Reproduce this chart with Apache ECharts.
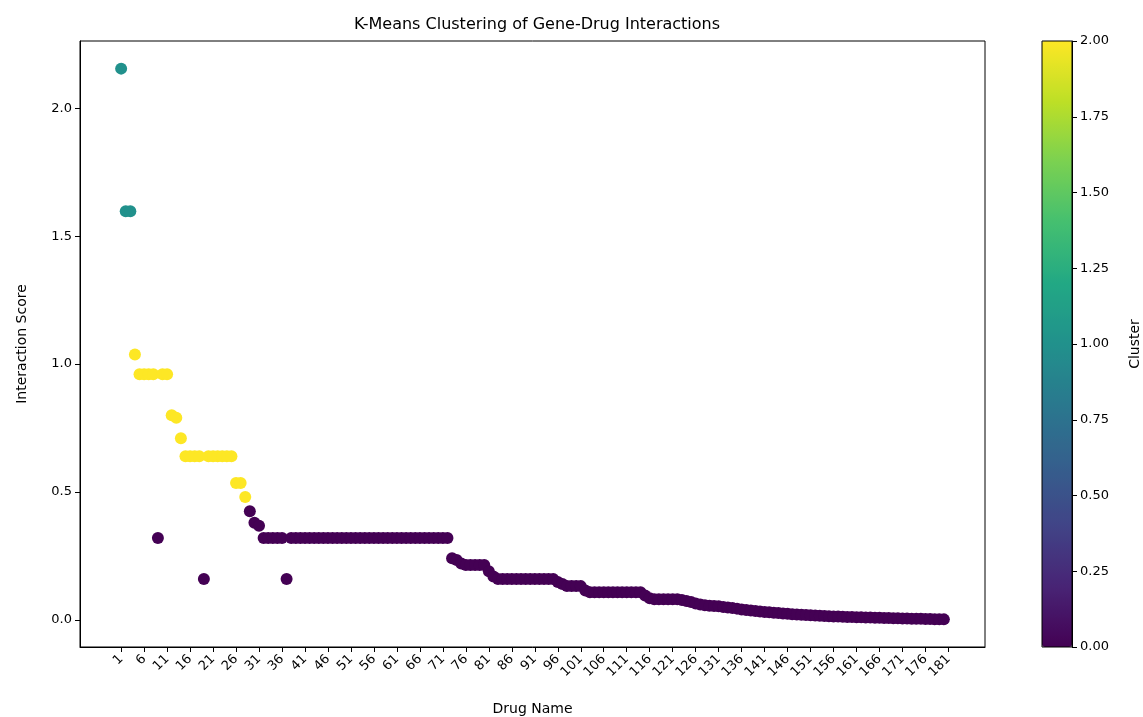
<!DOCTYPE html>
<html>
<head>
<meta charset="utf-8">
<script src="https://cdn.jsdelivr.net/npm/echarts@6/dist/echarts.min.js"></script>
<style>
  html, body { margin: 0; padding: 0; background: #fff; }
  #main { width: 1143px; height: 717px; }
</style>
</head>
<body>
<div id="main"></div>
<script>
// interaction score per drug (x = drug index, label = index + 1)
const scores = [
  2.155, 1.597, 1.597, 1.037, 0.96, 0.96, 0.96, 0.96, 0.32, 0.96,
  0.96, 0.80, 0.79, 0.71, 0.64, 0.64, 0.64, 0.64, 0.16, 0.64,
  0.64, 0.64, 0.64, 0.64, 0.64, 0.535, 0.535, 0.48, 0.425, 0.38,
  0.368, 0.32, 0.32, 0.32, 0.32, 0.32, 0.16, 0.32, 0.32, 0.32,
  0.32, 0.32, 0.32, 0.32, 0.32, 0.32, 0.32, 0.32, 0.32, 0.32,
  0.32, 0.32, 0.32, 0.32, 0.32, 0.32, 0.32, 0.32, 0.32, 0.32,
  0.32, 0.32, 0.32, 0.32, 0.32, 0.32, 0.32, 0.32, 0.32, 0.32,
  0.32, 0.32, 0.241, 0.234, 0.22, 0.215, 0.215, 0.215, 0.215, 0.215,
  0.19, 0.17, 0.16, 0.16, 0.16, 0.16, 0.16, 0.16, 0.16, 0.16,
  0.16, 0.16, 0.16, 0.16, 0.16, 0.148, 0.14, 0.132, 0.132, 0.132,
  0.132, 0.115, 0.108, 0.108, 0.108, 0.108, 0.108, 0.108, 0.108, 0.108,
  0.108, 0.108, 0.108, 0.108, 0.095, 0.085, 0.081, 0.081, 0.081, 0.081,
  0.081, 0.081, 0.078, 0.074, 0.07, 0.064, 0.06, 0.057, 0.055, 0.054,
  0.053, 0.05, 0.048, 0.046, 0.044, 0.041, 0.039, 0.037, 0.035, 0.033,
  0.031, 0.030, 0.028, 0.027, 0.025, 0.024, 0.022, 0.021, 0.020, 0.019,
  0.018, 0.017, 0.016, 0.015, 0.014, 0.0135, 0.013, 0.012, 0.0115, 0.011,
  0.0105, 0.010, 0.0095, 0.009, 0.0085, 0.008, 0.0075, 0.007, 0.0065, 0.006,
  0.0055, 0.005, 0.0048, 0.0045, 0.004, 0.0035, 0.003, 0.0028, 0.0025, 0.002
]
// k-means cluster of each drug
const clusters = [
  1, 1, 1, 2, 2, 2, 2, 2, 0, 2,
  2, 2, 2, 2, 2, 2, 2, 2, 0, 2,
  2, 2, 2, 2, 2, 2, 2, 2, 0, 0,
  0, 0, 0, 0, 0, 0, 0, 0, 0, 0,
  0, 0, 0, 0, 0, 0, 0, 0, 0, 0,
  0, 0, 0, 0, 0, 0, 0, 0, 0, 0,
  0, 0, 0, 0, 0, 0, 0, 0, 0, 0,
  0, 0, 0, 0, 0, 0, 0, 0, 0, 0,
  0, 0, 0, 0, 0, 0, 0, 0, 0, 0,
  0, 0, 0, 0, 0, 0, 0, 0, 0, 0,
  0, 0, 0, 0, 0, 0, 0, 0, 0, 0,
  0, 0, 0, 0, 0, 0, 0, 0, 0, 0,
  0, 0, 0, 0, 0, 0, 0, 0, 0, 0,
  0, 0, 0, 0, 0, 0, 0, 0, 0, 0,
  0, 0, 0, 0, 0, 0, 0, 0, 0, 0,
  0, 0, 0, 0, 0, 0, 0, 0, 0, 0,
  0, 0, 0, 0, 0, 0, 0, 0, 0, 0,
  0, 0, 0, 0, 0, 0, 0, 0, 0, 0
]
const xTickLabels = ['1', '6', '11', '16', '21', '26', '31', '36', '41', '46',
  '51', '56', '61', '66', '71', '76', '81', '86', '91', '96',
  '101', '106', '111', '116', '121', '126', '131', '136', '141', '146',
  '151', '156', '161', '166', '171', '176', '181']
const yTicks = [0, 0.5, 1.0, 1.5, 2.0]
const viridis = ['#440154', '#482475', '#414487', '#355f8d', '#2a788e', '#21918c',
  '#22a884', '#44bf70', '#7ad151', '#bddf26', '#fde725']

const font = 'DejaVu Sans'
const xTickPos = xTickLabels.map((l) => Number(l) - 1)
const points = scores.map((s, i) => [i, s, clusters[i]])

const chart = echarts.init(document.getElementById('main'))
chart.setOption({
  animation: false,
  textStyle: { fontFamily: font },
  title: {
    text: 'K-Means Clustering of Gene-Drug Interactions',
    left: 532,
    top: 12,
    textAlign: 'center',
    textStyle: { fontFamily: font, fontSize: 16, fontWeight: 'normal', color: '#000' },
  },
  grid: [
    { left: 80, top: 41, width: 905, height: 606, outerBoundsMode: 'none', containLabel: false, show: true, borderColor: '#000', borderWidth: 1, backgroundColor: 'transparent' },
    { left: 1042, top: 41, width: 30, height: 606, outerBoundsMode: 'none', containLabel: false, show: true, borderColor: '#000', borderWidth: 1, backgroundColor: 'transparent', z: 10 },
  ],
  visualMap: {
    type: 'continuous',
    min: 0,
    max: 2,
    dimension: 2,
    seriesIndex: 0,
    inRange: { color: viridis },
    left: 1042,
    top: 41,
    itemWidth: 30,
    itemHeight: 606,
    padding: 0,
    calculable: false,
    showLabel: false,
    text: null,
    hoverLink: false,
  },
  xAxis: [
    {
      type: 'value',
      gridIndex: 0,
      min: -8.95,
      max: 187.95,
      name: 'Drug Name',
      nameLocation: 'middle',
      nameGap: 55,
      nameTextStyle: { fontFamily: font, fontSize: 14, color: '#000' },
      splitLine: { show: false },
      axisLine: { show: true, onZero: false, lineStyle: { color: '#000' } },
      axisTick: { show: true, length: 5, lineStyle: { color: '#000' }, customValues: xTickPos },
      axisLabel: {
        customValues: xTickPos,
        rotate: 45,
        fontSize: 13,
        color: '#000',
        margin: 10,
        formatter: (v) => xTickLabels[xTickPos.indexOf(Math.round(v))] || '',
      },
    },
    { type: 'value', gridIndex: 1, min: 0, max: 1, show: false },
  ],
  yAxis: [
    {
      type: 'value',
      gridIndex: 0,
      min: -0.106,
      max: 2.263,
      name: 'Interaction Score',
      nameLocation: 'middle',
      nameGap: 51,
      nameTextStyle: { fontFamily: font, fontSize: 14, color: '#000' },
      splitLine: { show: false },
      axisLine: { show: true, onZero: false, lineStyle: { color: '#000' } },
      axisTick: { show: true, length: 5, lineStyle: { color: '#000' }, customValues: yTicks },
      axisLabel: {
        customValues: yTicks,
        fontSize: 13,
        color: '#000',
        margin: 8,
        formatter: (v) => v.toFixed(1),
      },
    },
    {
      type: 'value',
      gridIndex: 1,
      position: 'right',
      min: 0,
      max: 2,
      interval: 0.25,
      name: 'Cluster',
      nameLocation: 'middle',
      nameRotate: 90,
      nameGap: 56,
      nameTextStyle: { fontFamily: font, fontSize: 14, color: '#000' },
      splitLine: { show: false },
      axisLine: { show: true, onZero: false, lineStyle: { color: '#000' } },
      axisTick: { show: true, length: 5, lineStyle: { color: '#000' } },
      axisLabel: { fontSize: 13, color: '#000', margin: 8, formatter: (v) => v.toFixed(2) },
    },
  ],
  series: [
    {
      type: 'scatter',
      xAxisIndex: 0,
      yAxisIndex: 0,
      symbol: 'circle',
      symbolSize: 12,
      itemStyle: { opacity: 1 },
      data: points,
    },
  ],
})
</script>
</body>
</html>
